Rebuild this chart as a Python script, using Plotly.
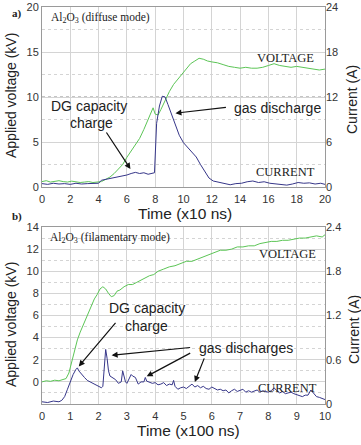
import plotly.graph_objects as go
from plotly.subplots import make_subplots

# ---------------- data: panel a (time in x10 ns) ----------------
t_volt_a = [0, 0.3, 0.6, 0.9, 1.2, 1.5, 1.8, 2.1, 2.4, 2.7, 3.0, 3.3, 3.6, 3.9, 4.2, 4.5, 4.8, 5.1, 5.4, 5.7,
            6.0, 6.3, 6.6, 6.9, 7.2, 7.5, 7.7, 7.85, 8.0, 8.2, 8.4, 8.7, 9.0, 9.3, 9.6, 9.9, 10.2, 10.5, 10.8,
            11.1, 11.4, 11.7, 12.0, 12.4, 12.8, 13.2, 13.6, 14.0, 14.4, 14.8, 15.2, 15.6, 16.0, 16.4, 16.8,
            17.2, 17.6, 18.0, 18.4, 18.8, 19.2, 19.6, 20.0]
volt_a = [0.6, 0.7, 0.55, 0.65, 0.7, 0.6, 0.55, 0.65, 0.6, 0.5, 0.55, 0.6, 0.5, 0.55, 0.6, 0.85, 1.1, 1.5, 2.0, 2.5,
          3.3, 4.0, 4.6, 5.4, 6.4, 7.6, 8.4, 8.8, 8.1, 8.0, 8.6, 9.6, 10.6, 11.4, 12.0, 12.6, 13.2, 13.7, 14.0,
          14.3, 14.2, 14.0, 13.9, 13.8, 13.6, 13.4, 13.3, 13.2, 13.3, 13.2, 13.2, 13.3, 13.5, 13.7, 13.5,
          13.4, 13.3, 13.4, 13.3, 13.2, 13.1, 13.0, 13.1]

t_curr_a = [0, 0.4, 0.8, 1.2, 1.6, 2.0, 2.4, 2.8, 3.2, 3.6, 4.0, 4.2, 4.5, 4.8, 5.1, 5.4, 5.7, 6.0, 6.3, 6.6,
            6.9, 7.2, 7.5, 7.8, 7.95, 8.1, 8.3, 8.5, 8.7, 8.9, 9.1, 9.3, 9.5, 9.7, 10.0, 10.3, 10.6, 10.9, 11.2,
            11.5, 11.8, 12.1, 12.5, 12.9, 13.3, 13.7, 14.1, 14.5, 14.9, 15.3, 15.7, 16.1, 16.5, 16.9, 17.3,
            17.7, 18.1, 18.5, 18.9, 19.3, 19.7, 20.0]
curr_a = [0.45, 0.35, 0.5, 0.4, 0.45, 0.35, 0.5, 0.4, 0.45, 0.5, 0.5, 0.9, 1.0, 1.1, 1.2, 1.35, 1.5, 1.6, 1.8, 1.95,
          1.8, 1.9, 1.7, 1.8, 1.9, 8.5, 10.8, 12.1, 12.0, 11.0, 10.0, 9.0, 7.9, 6.9, 5.9, 5.3, 4.6, 4.0, 3.0,
          2.0, 1.2, 0.8, 0.6, 0.4, 0.3, 0.45, 0.5, 0.7, 0.8, 0.6, 0.7, 0.5, 0.4, 0.3, 0.25,
          0.4, 0.6, 0.5, 0.55, 0.4, 0.5, 0.35]

# ---------------- data: panel b (time in x100 ns) ----------------
t_volt_b = [0, 0.15, 0.3, 0.45, 0.6, 0.75, 0.85, 0.95, 1.05, 1.15, 1.25, 1.35, 1.45, 1.55, 1.65, 1.75, 1.85,
            1.95, 2.05, 2.15, 2.25, 2.35, 2.45, 2.55, 2.65, 2.75, 2.9, 3.05, 3.2, 3.35, 3.5, 3.65, 3.8, 3.95,
            4.1, 4.3, 4.5, 4.7, 4.9, 5.1, 5.3, 5.5, 5.7, 5.9, 6.1, 6.3, 6.5, 6.7, 6.9, 7.1, 7.3, 7.5, 7.7,
            7.9, 8.1, 8.3, 8.5, 8.7, 8.9, 9.1, 9.3, 9.5, 9.7, 9.9, 10.0]
volt_b = [0.0, 0.1, 0.05, 0.15, 0.1, 0.2, 0.3, 0.8, 1.8, 2.9, 3.8, 4.5, 5.1, 5.8, 6.3, 7.0, 7.5,
          7.9, 8.4, 8.6, 8.4, 8.0, 7.7, 7.8, 8.2, 8.3, 8.6, 8.8, 8.8, 9.0, 9.2, 9.4, 9.6, 9.7,
          10.0, 10.2, 10.4, 10.5, 10.7, 10.9, 10.9, 11.1, 11.3, 11.5, 11.7, 11.9, 11.9, 12.0, 12.2, 12.2, 12.3,
          12.3, 12.5, 12.6, 12.7, 12.7, 12.8, 12.8, 12.9, 13.0, 13.0, 13.1, 13.2, 13.1, 13.3]

t_curr_b = [0, 0.2, 0.4, 0.6, 0.7, 0.8, 0.9, 1.0, 1.1, 1.2, 1.25, 1.3, 1.4, 1.5, 1.6, 1.7, 1.8, 1.9, 2.0, 2.1,
            2.15, 2.2, 2.25, 2.3, 2.35, 2.4, 2.5, 2.6, 2.7, 2.8, 2.85, 2.9, 2.95, 3.0, 3.1, 3.15, 3.2, 3.3,
            3.4, 3.5, 3.6, 3.65, 3.7, 3.8, 3.9, 4.0, 4.1, 4.2, 4.3, 4.4, 4.5, 4.6, 4.65, 4.7, 4.8, 4.9, 5.0,
            5.1, 5.2, 5.3, 5.4, 5.5, 5.6, 5.7, 5.8, 5.9, 6.0, 6.1, 6.2, 6.3, 6.4, 6.5, 6.6, 6.7, 6.8, 6.9,
            7.0, 7.1, 7.2, 7.3, 7.4, 7.5, 7.6, 7.7, 7.8, 7.9, 8.0, 8.1, 8.2, 8.3, 8.4, 8.5, 8.6, 8.7, 8.8,
            8.9, 9.0, 9.1, 9.2, 9.3, 9.4, 9.5, 9.6, 9.7, 9.8, 9.9, 10.0]
curr_b = [0.03, 0.02, 0.04, 0.03, 0.05, 0.1, 0.2, 0.3, 0.4, 0.47, 0.49, 0.45, 0.4, 0.36, 0.32, 0.3, 0.28, 0.27,
          0.25, 0.22, 0.24, 0.55, 0.74, 0.62, 0.45, 0.38, 0.35, 0.33, 0.28, 0.3, 0.45, 0.36, 0.3, 0.28, 0.36,
          0.4, 0.38, 0.36, 0.27, 0.3, 0.3, 0.36, 0.31, 0.3, 0.28, 0.29, 0.26, 0.27, 0.29, 0.25, 0.27, 0.26,
          0.32, 0.24, 0.2, 0.22, 0.23, 0.21, 0.24, 0.27, 0.23, 0.25, 0.22, 0.24, 0.21, 0.2, 0.23, 0.21, 0.19,
          0.2, 0.18, 0.19, 0.15, 0.18, 0.2, 0.17, 0.18, 0.2, 0.16, 0.18, 0.16, 0.17, 0.19, 0.16, 0.18, 0.17,
          0.16, 0.18, 0.22, 0.18, 0.15, 0.17, 0.14, 0.15, 0.16, 0.14, 0.13, 0.12, 0.1, 0.12, 0.12, 0.19, 0.14,
          0.1, 0.09, 0.08, 0.06]

# tick labels
xt_a = [0, 2, 4, 6, 8, 10, 12, 14, 16, 18, 20]
yl_a = [0, 5, 10, 15, 20]
yr_a = [0, 6, 12, 18, 24]
xt_b = [0, 1, 2, 3, 4, 5, 6, 7, 8, 9, 10]
yl_b = [0, 2, 4, 6, 8, 10, 12, 14]
yr_b = [0, 0.6, 1.2, 1.8, 2.4]

GREEN = "#5cc556"
BLUE = "#363689"
GRID = "#d4d4d4"
AX = "#9a9a9a"
SANS = "Liberation Sans, Arial, sans-serif"
SERIF = "Liberation Serif, Times New Roman, serif"

fig = make_subplots(rows=2, cols=1, specs=[[{"secondary_y": True}], [{"secondary_y": True}]])

fig.add_trace(go.Scatter(x=t_volt_a, y=volt_a, mode="lines", line=dict(color=GREEN, width=1)), row=1, col=1, secondary_y=False)
fig.add_trace(go.Scatter(x=t_curr_a, y=curr_a, mode="lines", line=dict(color=BLUE, width=1)), row=1, col=1, secondary_y=True)
fig.add_trace(go.Scatter(x=t_volt_b, y=volt_b, mode="lines", line=dict(color=GREEN, width=1)), row=2, col=1, secondary_y=False)
fig.add_trace(go.Scatter(x=t_curr_b, y=curr_b, mode="lines", line=dict(color=BLUE, width=1)), row=2, col=1, secondary_y=True)

tickfont = dict(family=SANS, size=11, color="#333")
common = dict(automargin=False, tickfont=tickfont, ticks="", zeroline=False)

fig.update_layout(
    width=361, height=445, showlegend=False,
    margin=dict(l=42, r=36, t=7, b=41, autoexpand=False),
    paper_bgcolor="white", plot_bgcolor="white",
    xaxis=dict(domain=[0, 1], range=[0, 20], tickvals=xt_a, showgrid=True, gridcolor=GRID, gridwidth=1,
               showline=True, mirror=True, linecolor=AX, ticklabelstandoff=2, **common),
    yaxis=dict(domain=[0.5466, 1], range=[0, 20], tickvals=yl_a, showgrid=True, gridcolor=GRID,
               minor=dict(dtick=2.5, showgrid=True, gridcolor=GRID, griddash="dot"),
               showline=True, mirror=True, linecolor=AX, **common),
    yaxis2=dict(range=[0, 24], tickvals=yr_a, showgrid=False, **common),
    xaxis2=dict(domain=[0, 1], range=[0, 10], tickvals=xt_b, showgrid=True, gridcolor=GRID,
                showline=True, mirror=True, linecolor=AX, ticklabelstandoff=2, **common),
    yaxis3=dict(domain=[0, 0.4458], range=[-2, 14], tickvals=yl_b, showgrid=True, gridcolor=GRID,
                minor=dict(dtick=1, showgrid=True, gridcolor=GRID, griddash="dot"),
                showline=True, mirror=True, linecolor=AX, **common),
    yaxis4=dict(range=[0, 2.4], tickvals=yr_b, showgrid=False, **common),
)

# darker centre cross lines
for xr, yr, xv, yv, x0, x1, y0, y1 in [("x", "y", 10, 10, 0, 20, 0, 20), ("x2", "y3", 5, 6, 0, 10, -2, 14)]:
    fig.add_shape(type="line", xref=xr, yref=yr, x0=xv, x1=xv, y0=y0, y1=y1, line=dict(color="#8a8a8a", width=1, dash="dot"), layer="below")
    fig.add_shape(type="line", xref=xr, yref=yr, x0=x0, x1=x1, y0=yv, y1=yv, line=dict(color="#8a8a8a", width=1, dash="dot"), layer="below")

def px2paper(px, py):
    return (px - 42) / 283.0, (404 - py) / 397.0

def txt(text, px, py, size=11, family=SERIF, angle=0, color="#222", xanchor="center"):
    x, y = px2paper(px, py)
    fig.add_annotation(text=text, x=x, y=y, xref="paper", yref="paper", showarrow=False,
                       font=dict(family=family, size=size, color=color), textangle=angle,
                       xanchor=xanchor, yanchor="middle")

# axis titles
txt("Applied voltage (kV)", 11, 96, 14, SANS, -90)
txt("Applied voltage (kV)", 11, 325, 14, SANS, -90)
txt("Current (A)", 352, 100, 14, SANS, -90)
txt("Current (A)", 354, 330, 14, SANS, -90)
txt("Time (x10 ns)", 185, 213, 15.5, SANS)
txt("Time (x100 ns)", 188, 431, 15.5, SANS)
txt("<b>a)</b>", 17, 13, 11, SERIF)
txt("<b>b)</b>", 17, 216, 11, SERIF)

# in-plot labels
txt("Al<sub>2</sub>O<sub>3</sub> (diffuse mode)", 49, 18, 11.5, SERIF, xanchor="left")
txt("Al<sub>2</sub>O<sub>3</sub> (filamentary mode)", 48, 238, 11.5, SERIF, xanchor="left")
txt("VOLTAGE", 285, 58, 12.5, SERIF)
txt("CURRENT", 285, 172, 12.5, SERIF)
txt("VOLTAGE", 287, 254, 12.5, SERIF)
txt("CURRENT", 287, 388, 12.5, SERIF)
txt("DG capacity", 89, 106, 14, SANS)
txt("charge", 91, 123, 14, SANS)
txt("gas discharge", 277, 108, 14, SANS)
txt("DG capacity", 147, 308, 14, SANS)
txt("charge", 146, 326, 14, SANS)
txt("gas discharges", 246, 348, 14, SANS)

def arrow(xr, yr, x, y, ax, ay):
    fig.add_annotation(x=x, y=y, xref=xr, yref=yr, ax=ax, ay=ay, text="", showarrow=True,
                       arrowhead=2, arrowsize=1, arrowwidth=1.2, arrowcolor="#111")

arrow("x", "y", 6.25, 2.0, -25, -38)
arrow("x", "y", 9.43, 8.2, 52, -6)
arrow("x2", "y3", 1.3, 1.4, 38, -45)
arrow("x2", "y3", 2.46, 2.4, 80, -8)
arrow("x2", "y3", 3.7, 0.5, 45, -24)
arrow("x2", "y3", 5.4, 0.0, 10, -25)

fig.write_html("out.html", config={"displayModeBar": False},
               post_script="document.body.style.margin='0px';document.body.style.overflow='hidden';")
